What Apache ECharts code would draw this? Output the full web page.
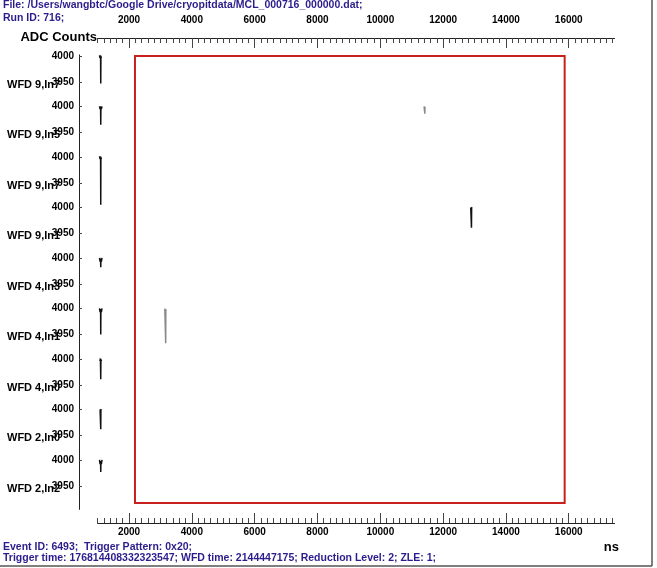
<!DOCTYPE html>
<html><head><meta charset="utf-8">
<script src="https://cdn.jsdelivr.net/npm/echarts@6/dist/echarts.min.js"></script>
<style>html,body{margin:0;padding:0;background:#fff}#c{width:657px;height:568px}</style>
</head><body><div id="c"></div>
<script>
// ---- data ----
const headerLines = ["File: /Users/wangbtc/Google Drive/cryopitdata/MCL_000716_000000.dat;", "Run ID: 716;"];
const footerLines = ["Event ID: 6493;  Trigger Pattern: 0x20;", "Trigger time: 176814408332323547; WFD time: 2144447175; Reduction Level: 2; ZLE: 1;"];
const channelLabels = ["WFD 9,In7", "WFD 9,In5", "WFD 9,In7", "WFD 9,In1", "WFD 4,In3", "WFD 4,In1", "WFD 4,In0", "WFD 2,In0", "WFD 2,In2"];
const timeTicks = [2000, 4000, 6000, 8000, 10000, 12000, 14000, 16000];
const adcTicks = [3950, 4000];
const timeRange = [1000, 17460];
const adcRange = [3905, 4002];
const roiRange = [2190, 15870];
const yAxisTitle = "ADC Counts";
const xAxisTitle = "ns";
// waveform traces per channel (time ns, ADC counts)
const ch0 = [[[1060, 4001], [1080, 3996], [1095, 4001], [1100, 3947], [1105, 3999], [1120, 3996], [1140, 4001]]];
const ch1 = [[[1060, 4000], [1080, 3995], [1095, 4000], [1100, 3965], [1105, 3999], [1120, 3995], [1140, 4000]],
             [[11395, 4000], [11410, 3997], [11415, 4000], [11418, 3986], [11422, 3999], [11430, 3997], [11445, 4000]]];
const ch2 = [[[1060, 4001], [1080, 3996], [1095, 4001], [1100, 3908], [1105, 3999], [1120, 3996], [1140, 4001]]];
const ch3 = [[[12880, 4000], [12895, 3998], [12900, 4000], [12903, 3961], [12908, 3999], [12915, 3998], [12930, 4000]]];
const ch4 = [[[1060, 4000], [1080, 3993], [1095, 3999], [1100, 3982], [1105, 3998], [1120, 3993], [1140, 4000]]];
const ch5 = [[[1060, 4000], [1080, 3993], [1095, 3999], [1100, 3950], [1105, 3998], [1120, 3993], [1140, 4000]],
             [[3140, 4000], [3160, 3997], [3165, 4000], [3168, 3933], [3172, 3998], [3180, 3995], [3195, 4000]]];
const ch6 = [[[1075, 3996], [1090, 4001], [1100, 3961], [1105, 3999], [1115, 4001], [1125, 3996]]];
const ch7 = [[[1080, 4000], [1092, 4001], [1100, 3962], [1105, 3999], [1115, 4001], [1122, 4000]]];
const ch8 = [[[1060, 4000], [1080, 3992], [1095, 3998], [1100, 3977], [1105, 3997], [1120, 3992], [1140, 4000]]];
const channels = [ch0, ch1, ch2, ch3, ch4, ch5, ch6, ch7, ch8];
const traceColors = [["#111"], ["#111", "#8a8a8a"], ["#111"], ["#111"], ["#111"], ["#111", "#8a8a8a"], ["#111"], ["#111"], ["#111"]];

// ---- layout ----
const plotLeft = 97.6, plotWidth = 517, axisTop = 38, axisBottom = 523;
const panelTop0 = 54.9, panelH = 50.5;
const boxTop = 56, boxBottom = 503;
const minorTicks = [];
for (let v = timeRange[0]; v <= timeRange[1]; v += 200) minorTicks.push(v);

const fontFam = '"Liberation Sans", Arial, sans-serif';
const headColor = '#2a1c8c';
const labelStyle = { fontFamily: fontFam, fontWeight: 'bold', fontSize: 10, color: '#000', formatter: v => String(v) };

const grid = [], xAxis = [], yAxis = [], series = [];
// grid 0: minor ticks top/bottom ; grid 1: major ticks + labels top/bottom
for (let g = 0; g < 2; g++) {
  grid.push({ left: plotLeft, width: plotWidth, top: axisTop, height: axisBottom - axisTop });
  yAxis.push({ gridIndex: g, show: false, min: 0, max: 1 });
  ['top', 'bottom'].forEach(pos => {
    xAxis.push({
      gridIndex: g, type: 'value', position: pos, min: timeRange[0], max: timeRange[1],
      axisLine: { show: g === 0, onZero: false, lineStyle: { color: '#222', width: 1 } },
      axisTick: { show: true, inside: true, length: g === 0 ? 5 : 10, customValues: g === 0 ? minorTicks : timeTicks, lineStyle: { color: '#444', width: 1 } },
      axisLabel: g === 0 ? { show: false } : Object.assign({ show: true, customValues: timeTicks, margin: pos === 'top' ? 13 : 4 }, labelStyle),
      splitLine: { show: false }
    });
  });
}
// panels
channels.forEach((traces, i) => {
  const gi = grid.length;
  grid.push({ left: plotLeft, width: plotWidth, top: panelTop0 + i * panelH, height: panelH });
  xAxis.push({ gridIndex: gi, type: 'value', show: false, min: timeRange[0], max: timeRange[1] });
  yAxis.push({
    gridIndex: gi, type: 'value', min: adcRange[0], max: adcRange[1], offset: 18.6, position: 'left',
    axisLine: { show: true, onZero: false, lineStyle: { color: '#222', width: 1 } },
    axisTick: { show: true, inside: true, length: 3, customValues: adcTicks, lineStyle: { color: '#444' } },
    axisLabel: Object.assign({ show: true, customValues: adcTicks, margin: 5 }, labelStyle),
    splitLine: { show: false }
  });
  traces.forEach((tr, k) => {
    series.push({
      type: 'line', xAxisIndex: xAxis.length - 1, yAxisIndex: yAxis.length - 1,
      data: tr, showSymbol: false, symbol: 'none', silent: true,
      lineStyle: { color: traceColors[i][k], width: 1.5 }
    });
  });
});
// overlay for region box
{
  const gi = grid.length;
  grid.push({ left: plotLeft, width: plotWidth, top: boxTop, height: boxBottom - boxTop });
  xAxis.push({ gridIndex: gi, type: 'value', show: false, min: timeRange[0], max: timeRange[1] });
  yAxis.push({ gridIndex: gi, type: 'value', show: false, min: 0, max: 1 });
  series.push({
    type: 'line', xAxisIndex: xAxis.length - 1, yAxisIndex: yAxis.length - 1, data: [[roiRange[0], 0.5]],
    symbol: 'none', lineStyle: { opacity: 0 }, silent: true,
    markArea: { silent: true, itemStyle: { color: 'rgba(0,0,0,0)', borderColor: '#c8201e', borderWidth: 2 },
      data: [[{ xAxis: roiRange[0], yAxis: 0 }, { xAxis: roiRange[1], yAxis: 1 }]] }
  });
}

const graphic = [];
headerLines.forEach((t, i) => graphic.push({ type: 'text', x: 3, y: 5 + i * 13, z: 10,
  style: { text: t, font: 'bold 10.5px ' + fontFam, fill: headColor, verticalAlign: 'middle' } }));
footerLines.forEach((t, i) => graphic.push({ type: 'text', x: 3, y: 547 + i * 11, z: 10,
  style: { text: t, font: 'bold 10.5px ' + fontFam, fill: headColor, verticalAlign: 'middle' } }));
channelLabels.forEach((t, i) => graphic.push({ type: 'text', x: 7, y: panelTop0 + 30 + i * panelH, z: -1,
  style: { text: t, font: 'bold 11px ' + fontFam, fill: '#000', verticalAlign: 'middle' } }));
graphic.push({ type: 'text', x: 97, y: 37, style: { text: yAxisTitle, font: 'bold 13px ' + fontFam, fill: '#000', align: 'right', verticalAlign: 'middle' } });
graphic.push({ type: 'text', x: 619, y: 547, style: { text: xAxisTitle, font: 'bold 13px ' + fontFam, fill: '#000', align: 'right', verticalAlign: 'middle' } });
graphic.push({ type: 'line', shape: { x1: 652, y1: 0, x2: 652, y2: 566 }, style: { stroke: '#555', lineWidth: 1.5 } });
graphic.push({ type: 'line', shape: { x1: 0, y1: 566, x2: 652, y2: 566 }, style: { stroke: '#555', lineWidth: 1.5 } });

const chart = echarts.init(document.getElementById('c'), null, { renderer: 'canvas' });
chart.setOption({ animation: false, backgroundColor: '#fff', grid, xAxis, yAxis, series, graphic });
</script></body></html>
